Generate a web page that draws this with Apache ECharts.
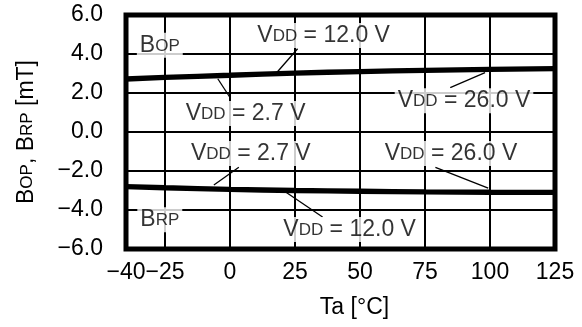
<!DOCTYPE html>
<html>
<head>
<meta charset="utf-8">
<script src="https://cdn.jsdelivr.net/npm/echarts@6/dist/echarts.min.js"></script>
<style>
html, body { margin: 0; padding: 0; background: #fff; }
#chart { width: 582px; height: 327px; }
</style>
</head>
<body>
<div id="chart"></div>
<script>
// 温度点
var temps = [-40, -25, 0, 25, 50, 75, 100, 125];
var xTicks = [-40, -25, 0, 25, 50, 75, 100, 125];
var xGrid = [-25, 0, 25, 50, 75, 100];

// BOP
var bop27 = [2.66, 2.74, 2.85, 2.96, 3.04, 3.10, 3.15, 3.19];
var bop12 = [2.72, 2.80, 2.91, 3.02, 3.10, 3.16, 3.21, 3.25];
var bop26 = [2.78, 2.86, 2.97, 3.08, 3.16, 3.22, 3.27, 3.31];
// BRP
var brp27 = [-2.74, -2.80, -2.88, -2.94, -2.98, -3.01, -3.03, -3.04];
var brp12 = [-2.80, -2.86, -2.94, -3.00, -3.04, -3.07, -3.09, -3.10];
var brp26 = [-2.86, -2.92, -3.00, -3.06, -3.10, -3.13, -3.15, -3.16];

// 注释文字 [x, y, text]
var notes = [
    [-27, 4.45, '{a|B}{s|OP}'],
    [36, 4.95, '{a|V}{s|DD}{a| = 12.0 V}'],
    [6, 0.95, '{a|V}{s|DD}{a| = 2.7 V}'],
    [90, 1.6, '{a|V}{s|DD}{a| = 26.0 V}'],
    [8, -1.1, '{a|V}{s|DD}{a| = 2.7 V}'],
    [85, -1.1, '{a|V}{s|DD}{a| = 26.0 V}'],
    [-27, -4.5, '{a|B}{s|RP}'],
    [46, -5.0, '{a|V}{s|DD}{a| = 12.0 V}']
];
// 引线 [x1, y1, x2, y2]
var leaders = [
    [26, 4.27, 18, 3.05],
    [0, 1.77, -4.7, 2.73],
    [84.7, 2.28, 98.1, 3.04],
    [3.4, -1.81, -6.2, -2.72],
    [79, -1.81, 99.3, -2.88],
    [21.4, -3.08, 35.6, -4.36]
];

var chart = echarts.init(document.getElementById('chart'));
var font = "'Liberation Sans', Arial, sans-serif";

function pairs(ys) {
    return temps.map(function (t, i) { return [t, ys[i]]; });
}
function minus(v, d) {
    var s = Math.abs(v).toFixed(d);
    return v < 0 ? '\u2212' + s : s;
}

var rich = {
    a: { fontSize: 23, fontFamily: font, color: '#000' },
    s: { fontSize: 17, fontFamily: font, color: '#000', verticalAlign: 'bottom', padding: [0, 0, 2, 0] }
};

var lineSeries = [];
[bop27, bop12, bop26, brp27, brp12, brp26].forEach(function (ys) {
    lineSeries.push({
        type: 'line',
        data: pairs(ys),
        smooth: true,
        symbol: 'none',
        z: 3,
        lineStyle: { color: '#000', width: 3 }
    });
});

var option = {
    animation: false,
    grid: {
        left: 126, right: 27, top: 15, bottom: 78,
        show: true, borderColor: '#000', borderWidth: 5, backgroundColor: 'transparent'
    },
    xAxis: {
        type: 'value',
        min: -40, max: 125,
        name: 'Ta [\u00b0C]',
        nameLocation: 'middle',
        nameGap: 47,
        nameTextStyle: { fontSize: 23, fontFamily: font, color: '#000', padding: [0, 0, 0, 28] },
        axisLine: { show: false },
        axisTick: { show: false },
        splitLine: { show: false },
        axisLabel: {
            customValues: xTicks,
            margin: 12,
            fontSize: 23, fontFamily: font, color: '#000',
            formatter: function (v) { return minus(v, 0); }
        }
    },
    yAxis: {
        type: 'value',
        min: -6, max: 6, interval: 2,
        name: '{a|B}{s|OP}{a|, B}{s|RP}{a| [mT]}',
        nameLocation: 'middle',
        nameRotate: 90,
        nameGap: 88,
        nameTextStyle: { rich: rich },
        axisLine: { show: false },
        axisTick: { show: false },
        splitLine: { show: true, lineStyle: { color: '#000', width: 2 } },
        axisLabel: {
            margin: 23,
            fontSize: 23, fontFamily: font, color: '#000',
            formatter: function (v) { return minus(v, 1); }
        }
    },
    series: [
        {
            // 竖网格线
            type: 'line',
            data: [],
            z: 1,
            markLine: {
                silent: true,
                symbol: ['none', 'none'],
                label: { show: false },
                lineStyle: { color: '#000', width: 2, type: 'solid' },
                data: xGrid.map(function (x) { return { xAxis: x }; })
            }
        },
        {
            // 引线
            type: 'line',
            data: [],
            z: 4,
            markLine: {
                silent: true,
                symbol: ['none', 'none'],
                label: { show: false },
                lineStyle: { color: '#000', width: 1.3, type: 'solid' },
                data: leaders.map(function (l) {
                    return [{ coord: [l[0], l[1]] }, { coord: [l[2], l[3]] }];
                })
            }
        },
        {
            type: 'scatter',
            z: 5,
            symbolSize: 1,
            itemStyle: { color: 'rgba(0,0,0,0)' },
            data: notes.map(function (n) { return { value: [n[0], n[1]], text: n[2] }; }),
            label: {
                show: true,
                position: 'inside',
                backgroundColor: '#fff',
                padding: [1, 3],
                formatter: function (p) { return p.data.text; },
                rich: rich
            }
        }
    ].concat(lineSeries)
};

chart.setOption(option);
</script>
</body>
</html>
